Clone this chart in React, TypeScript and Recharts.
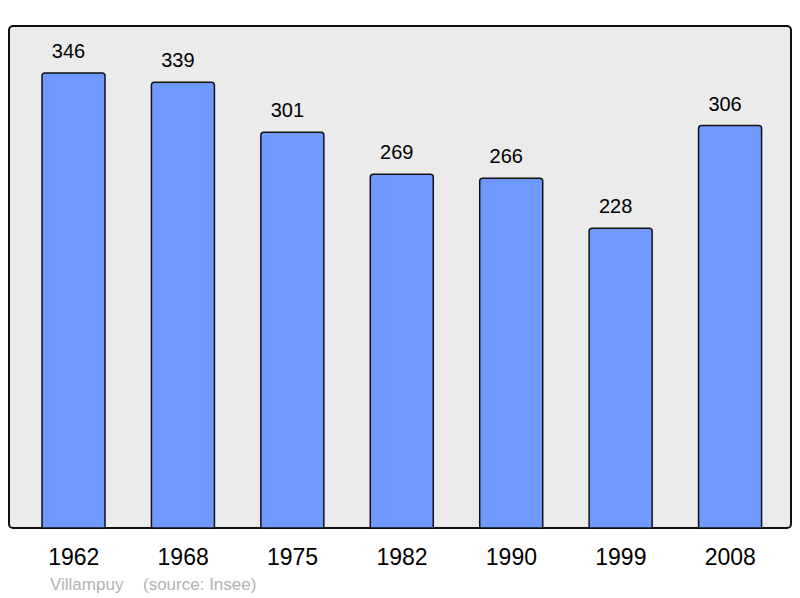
import { BarChart, Bar, XAxis, YAxis, LabelList } from 'recharts';

const years = ['1962', '1968', '1975', '1982', '1990', '1999', '2008'];
const population = [346, 339, 301, 269, 266, 228, 306];
const place = 'Villampuy';
const source = '(source: Insee)';

const FONT = '"Liberation Sans", Arial, sans-serif';

const data = years.map((year, i) => ({ year, pop: population[i] }));

const YearTick = (props: any) => {
  const { x, y, payload } = props;
  return (
    <text x={x} y={y + 37} textAnchor="middle" fontSize={23} fill="#000" fontFamily={FONT}>
      {payload.value}
    </text>
  );
};

export default function App() {
  return (
    <div style={{ position: 'fixed', left: 0, top: 0, width: 800, height: 598, background: '#fff' }}>
      <div
        style={{
          position: 'absolute', left: 8, top: 25, width: 784, height: 504,
          boxSizing: 'border-box', border: '2px solid #111', borderRadius: 5,
          background: '#ebebeb',
        }}
      />
      <div style={{ position: 'absolute', left: 0, top: 0 }}>
        <BarChart
          width={800}
          height={598}
          data={data}
          margin={{ top: 27, right: 9, bottom: 40, left: 9 }}
        >
          <XAxis
            dataKey="year"
            axisLine={false}
            tickLine={false}
            tickSize={0}
            tickMargin={0}
            height={30}
            padding={{ left: 10, right: 6 }}
            tick={<YearTick />}
            interval={0}
          />
          <YAxis hide domain={[0, 381]} />
          <Bar
            dataKey="pop"
            barSize={63}
            fill="#7099ff"
            stroke="#111"
            strokeWidth={1.5}
            radius={[3, 3, 0, 0]}
            isAnimationActive={false}
          >
            <LabelList
              dataKey="pop"
              position="top"
              offset={15}
              dx={-5}
              fontSize={20}
              fill="#000"
              fontFamily={FONT}
            />
          </Bar>
        </BarChart>
      </div>
      <div
        style={{
          position: 'absolute', left: 50, top: 575, fontFamily: FONT, fontSize: 17,
          color: '#b3b3b3', whiteSpace: 'pre', lineHeight: '20px',
        }}
      >
        {place}
      </div>
      <div
        style={{
          position: 'absolute', left: 143, top: 575, fontFamily: FONT, fontSize: 17,
          color: '#b3b3b3', whiteSpace: 'pre', lineHeight: '20px',
        }}
      >
        {source}
      </div>
    </div>
  );
}
